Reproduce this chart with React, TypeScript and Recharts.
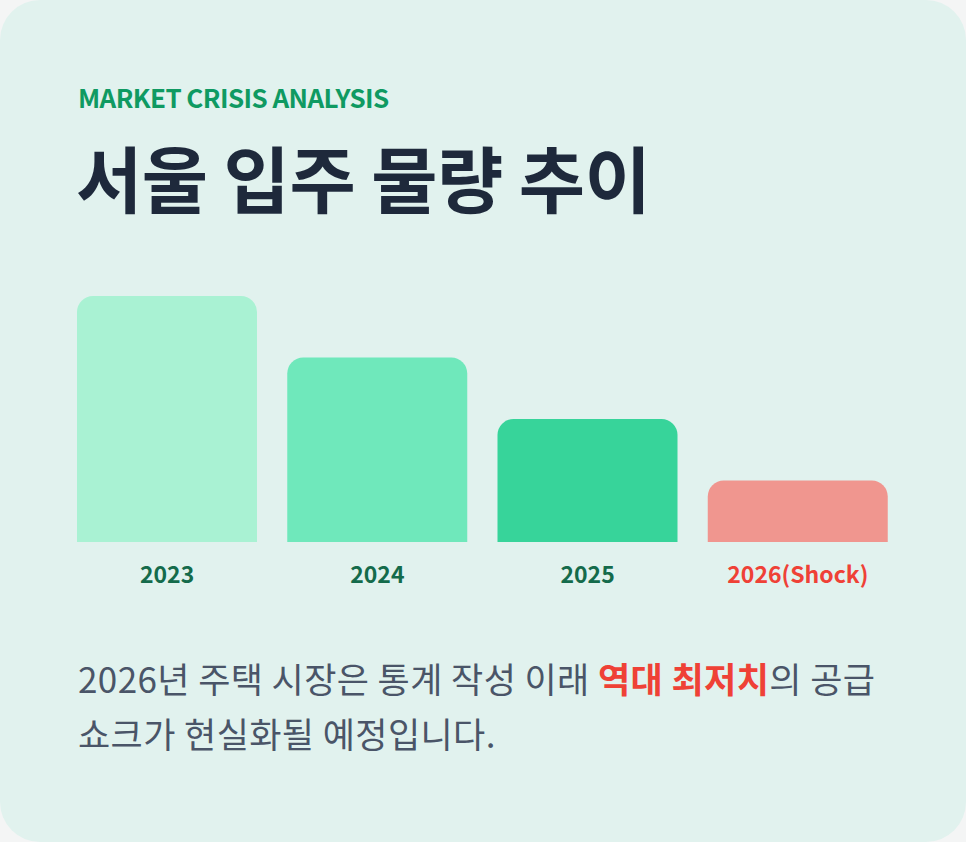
import React from "react";
import { BarChart, Bar, XAxis, YAxis, Cell } from "recharts";

const categories = ["2023", "2024", "2025", "2026(Shock)"];
const supplyIndex = [100, 75, 50, 25];
const barColors = ["#a9f2d3", "#6fe8bb", "#37d49a", "#f0968f"];
const labelColors = ["#146b4b", "#146b4b", "#146b4b", "#ef4136"];

const data = categories.map((name, i) => ({ name, value: supplyIndex[i] }));

const FONT = '"Noto Sans CJK KR", "Noto Sans", sans-serif';

const Tick = (props: any) => {
  const { x, y, payload, index } = props;
  return (
    <text
      x={x}
      y={y + 41}
      textAnchor="middle"
      fill={labelColors[index]}
      fontFamily={FONT}
      fontWeight={700}
      fontSize={23}
    >
      {payload.value}
    </text>
  );
};

export default function App() {
  return (
    <div
      style={{
        position: "absolute",
        left: 0,
        top: 0,
        width: 966,
        height: 842,
        background: "#f4f5f5",
        overflow: "hidden",
      }}
    >
      <div
        style={{
          position: "absolute",
          left: 0,
          top: 0,
          width: 966,
          height: 842,
          borderRadius: 40,
          background: "#e1f2ee",
          fontFamily: FONT,
        }}
      >
        <div
          style={{
            position: "absolute",
            left: 78,
            top: 84,
            fontSize: 26,
            lineHeight: 1,
            fontWeight: 700,
            color: "#0f9a62",
            letterSpacing: -0.6,
            whiteSpace: "nowrap",
          }}
        >
          MARKET CRISIS ANALYSIS
        </div>
        <div
          style={{
            position: "absolute",
            left: 76,
            top: 140,
            fontSize: 72,
            lineHeight: 1,
            fontWeight: 700,
            color: "#1e293b",
            letterSpacing: -0.4,
            whiteSpace: "nowrap",
          }}
        >
          서울 입주 물량 추이
        </div>
        <div style={{ position: "absolute", left: 0, top: 286 }}>
          <BarChart
            width={966}
            height={310}
            data={data}
            margin={{ top: 10, right: 63, left: 62, bottom: 0 }}
          >
            <XAxis
              dataKey="name"
              axisLine={false}
              tickLine={false}
              tickSize={0}
              tickMargin={0}
              height={54}
              tick={<Tick />}
              interval={0}
            />
            <YAxis hide domain={[0, 100]} />
            <Bar
              dataKey="value"
              barSize={180}
              radius={[16, 16, 0, 0]}
              isAnimationActive={false}
            >
              {data.map((d, i) => (
                <Cell key={d.name} fill={barColors[i]} />
              ))}
            </Bar>
          </BarChart>
        </div>
        <div
          style={{
            position: "absolute",
            left: 78,
            top: 650,
            width: 880,
            fontSize: 35,
            lineHeight: "55px",
            fontWeight: 400,
            color: "#4a5568",
            letterSpacing: 0.4,
            whiteSpace: "nowrap",
          }}
        >
          2026년 주택 시장은 통계 작성 이래{" "}
          <span style={{ color: "#ef4136", fontWeight: 700 }}>역대 최저치</span>의 공급
          <br />
          쇼크가 현실화될 예정입니다.
        </div>
      </div>
    </div>
  );
}
